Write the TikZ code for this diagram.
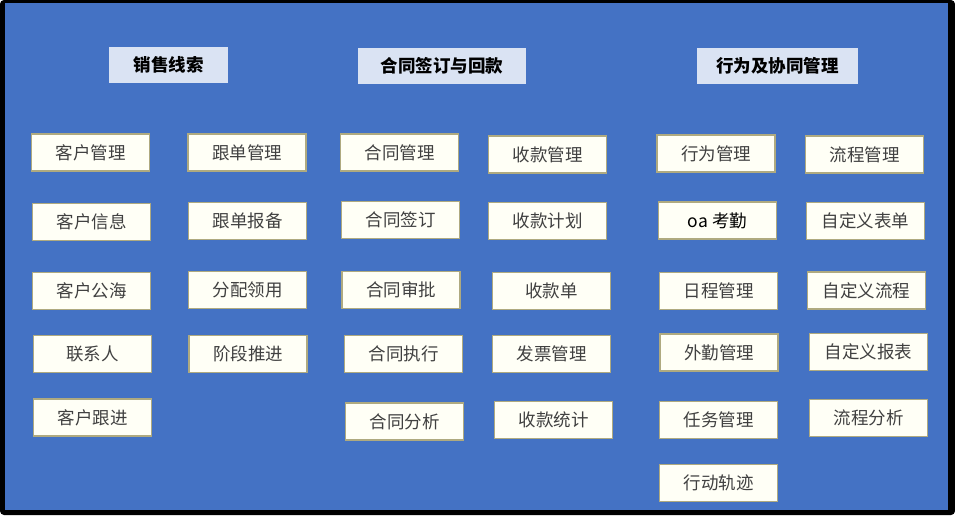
\documentclass[tikz,border=0pt]{standalone}
\usepackage{fontspec}
\newfontfamily\cjk{Noto Sans CJK SC}
\definecolor{bgblue}{RGB}{68,114,196}
\definecolor{hdrfill}{RGB}{218,227,243}
\definecolor{boxfill}{RGB}{255,255,246}
\definecolor{boxline}{RGB}{175,170,128}
\definecolor{boxtext}{RGB}{64,64,64}
\tikzset{
  itembox/.style={draw=boxline, line width=1.2pt, fill=boxfill, minimum width=118pt, minimum height=37pt, inner sep=0pt, text=boxtext, font=\cjk\fontsize{17.5}{20}\selectfont},
  hdrbox/.style={fill=hdrfill, minimum height=36pt, inner sep=0pt, text=black, font=\cjk\bfseries\fontsize{17.5}{20}\selectfont},
}
\begin{document}
\begin{tikzpicture}[x=1pt,y=-1pt]
\useasboundingbox (0,0) rectangle (955,515);
\fill[black, rounded corners=4pt] (0,0) rectangle (955,515);
\fill[bgblue] (5,3) rectangle (948,510);
% headers
\node[hdrbox, minimum width=119pt] (h1) at (168.5,65) {销售线索};
\node[hdrbox, minimum width=168pt] (h2) at (442,65.5) {合同签订与回款};
\node[hdrbox, minimum width=161pt] (h3) at (777.5,65.5) {行为及协同管理};
% column 1
\node[itembox] (c11) at (90.5,152.5) {客户管理};
\node[itembox] (c12) at (91.5,222) {客户信息};
\node[itembox] (c13) at (91.5,291) {客户公海};
\node[itembox] (c14) at (92.5,354) {联系人};
\node[itembox] (c15) at (92.5,417.5) {客户跟进};
% column 2
\node[itembox] (c21) at (247,152.5) {跟单管理};
\node[itembox] (c22) at (247.5,221) {跟单报备};
\node[itembox] (c23) at (247.5,290) {分配领用};
\node[itembox] (c24) at (248,354) {阶段推进};
% column 3
\node[itembox] (c31) at (399.5,152.5) {合同管理};
\node[itembox] (c32) at (400.5,220) {合同签订};
\node[itembox] (c33) at (401,290) {合同审批};
\node[itembox] (c34) at (403.5,354) {合同执行};
\node[itembox] (c35) at (404.5,421.5) {合同分析};
% column 4
\node[itembox] (c41) at (547.5,154.5) {收款管理};
\node[itembox] (c42) at (547.5,221) {收款计划};
\node[itembox] (c43) at (551.5,291) {收款单};
\node[itembox] (c44) at (551.5,354) {发票管理};
\node[itembox] (c45) at (553.5,420) {收款统计};
% column 5
\node[itembox] (c51) at (716,153.5) {行为管理};
\node[itembox, text=black] (c52) at (717.5,220.5) {oa 考勤};
\node[itembox] (c53) at (718.5,291) {日程管理};
\node[itembox] (c54) at (719,352.5) {外勤管理};
\node[itembox] (c55) at (718.5,420) {任务管理};
\node[itembox] (c56) at (718.5,483) {行动轨迹};
% column 6
\node[itembox] (c61) at (864.5,154.5) {流程管理};
\node[itembox] (c62) at (865.5,221) {自定义表单};
\node[itembox] (c63) at (866.5,290.5) {自定义流程};
\node[itembox] (c64) at (868.5,352) {自定义报表};
\node[itembox] (c65) at (868.5,418) {流程分析};
\end{tikzpicture}
\end{document}
